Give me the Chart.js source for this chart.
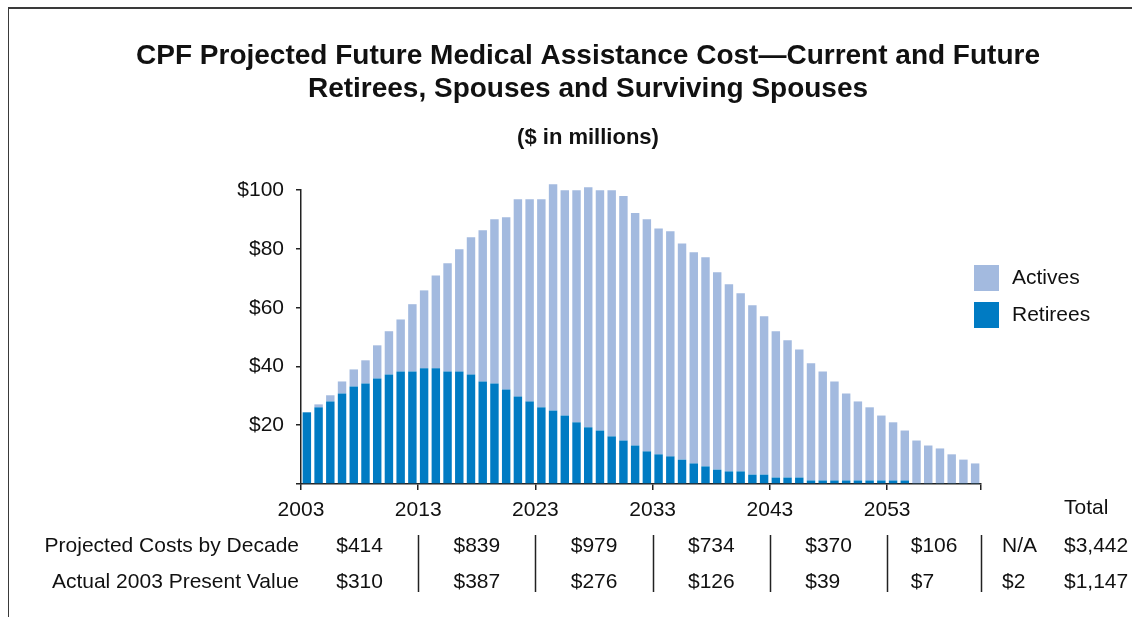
<!DOCTYPE html>
<html>
<head>
<meta charset="utf-8">
<title>CPF Projected Future Medical Assistance Cost</title>
<script src="https://cdn.jsdelivr.net/npm/chart.js@4.4.0/dist/chart.umd.min.js"></script>
<style>
    html, body { margin: 0; padding: 0; background: #fff; }
    #wrap { position: relative; width: 1132px; height: 617px; overflow: hidden; }
    #frame {
        position: absolute; left: 8px; top: 7px; right: -2px; bottom: -2px;
        border-top: 2px solid #3a3a3a; border-left: 1.5px solid #3a3a3a;
    }
    #chart { position: absolute; left: 0; top: 0; }
</style>
</head>
<body>
<div id="wrap">
    <div id="frame"></div>
    <canvas id="chart" width="1132" height="617"></canvas>
</div>
<script>
// ===========================
// DATA
// ===========================

const years = Array.from({ length: 58 }, (_, i) => String(2003 + i));

// $ in millions, per year
const retirees = [
    24.4, 26.1, 28.1, 30.8, 33.2, 34.2, 35.9, 37.3, 38.3, 38.3,
    39.4, 39.4, 38.3, 38.3, 37.3, 34.9, 34.2, 32.2, 29.8, 28.1,
    26.1, 25.0, 23.3, 21.0, 19.3, 18.2, 16.2, 14.8, 13.1, 11.1,
    10.1, 9.4, 8.3, 7.0, 6.0, 4.9, 4.3, 4.3, 3.2, 3.2,
    2.2, 2.2, 2.2, 1.2, 1.2, 1.2, 1.2, 1.2, 1.2, 1.2,
    1.2, 1.2, 0.3, 0.3, 0.3, 0.3, 0.3, 0.3
];

const actives = [
    0.0, 1.0, 2.1, 4.1, 5.8, 7.9, 11.3, 14.7, 17.7, 22.9,
    26.5, 31.6, 36.8, 41.6, 46.7, 51.5, 55.9, 58.6, 67.1, 68.8,
    70.8, 77.0, 76.7, 79.0, 81.7, 81.8, 83.8, 83.2, 79.1, 79.0,
    76.9, 76.6, 73.6, 71.9, 71.2, 67.2, 63.7, 60.6, 57.6, 53.9,
    49.8, 46.7, 43.6, 39.9, 37.1, 33.7, 29.6, 26.9, 24.9, 22.1,
    19.8, 17.0, 14.5, 12.8, 11.8, 9.8, 8.0, 6.7
];

// table under the axis
const rowLabels = ["Projected Costs by Decade", "Actual 2003 Present Value"];
const decadeStarts = [0, 10, 20, 30, 40, 50, 58];
const projectedByDecade = [414, 839, 979, 734, 370, 106];
const presentValueByDecade = [310, 387, 276, 126, 39, 7];
const projectedAfter = "N/A";
const presentValueAfter = 2;
const projectedTotal = 3442;
const presentValueTotal = 1147;

// ===========================
// STYLE
// ===========================

const FONT = "'Liberation Sans', Arial, Helvetica, sans-serif";
const INK = "#111";
const LIGHT_BLUE = "#a3badf";
const DARK_BLUE = "#007bc3";

function money(v) {
    return typeof v === "number" ? "$" + v.toLocaleString("en-US") : v;
}

// ===========================
// TABLE + LEGEND
// ===========================

const extrasPlugin = {
    id: "decadeTable",
    afterDraw(chart) {
        const { ctx, scales: { x } } = chart;
        const edge = i => x.getPixelForValue(i - 0.5);

        ctx.save();
        ctx.fillStyle = INK;
        ctx.font = "21px " + FONT;
        ctx.textBaseline = "middle";

        const rowY = [546, 582];
        const naX = 1002;
        const totalX = 1064;

        // header
        ctx.textAlign = "left";
        ctx.fillText("Total", totalX, 508);

        // row labels
        ctx.textAlign = "right";
        rowLabels.forEach((label, r) => ctx.fillText(label, 299, rowY[r]));

        // decade columns
        const slot = ctx.measureText("$000").width;
        ctx.textAlign = "left";
        for (let d = 0; d < projectedByDecade.length; d++) {
            const mid = (edge(decadeStarts[d]) + edge(decadeStarts[d + 1])) / 2;
            ctx.fillText(money(projectedByDecade[d]), mid - slot / 2, rowY[0]);
            ctx.fillText(money(presentValueByDecade[d]), mid - slot / 2, rowY[1]);
        }

        ctx.fillText(money(projectedAfter), naX, rowY[0]);
        ctx.fillText(money(presentValueAfter), naX, rowY[1]);
        ctx.fillText(money(projectedTotal), totalX, rowY[0]);
        ctx.fillText(money(presentValueTotal), totalX, rowY[1]);

        // separators on the decade boundaries
        ctx.strokeStyle = "#222";
        ctx.lineWidth = 1.5;
        ctx.beginPath();
        for (let d = 1; d < decadeStarts.length; d++) {
            const px = Math.round(edge(decadeStarts[d])) + 0.5;
            ctx.moveTo(px, 535);
            ctx.lineTo(px, 592);
        }
        ctx.stroke();

        // legend, actives first
        const items = chart.data.datasets.slice().reverse();
        items.forEach((ds, i) => {
            const top = 265 + i * 37;
            ctx.fillStyle = ds.backgroundColor;
            ctx.fillRect(974, top, 25, 26);
            ctx.fillStyle = INK;
            ctx.textAlign = "left";
            ctx.fillText(ds.label, 1012, top + 13);
        });

        ctx.restore();
    }
};

// ===========================
// CHART
// ===========================

const decadeTick = c => (c.tick === undefined || c.index % 10 === 0) ? "#222" : "rgba(0,0,0,0)";

new Chart(document.getElementById("chart"), {
    type: "bar",
    data: {
        labels: years,
        datasets: [
            {
                label: "Retirees",
                data: retirees,
                backgroundColor: DARK_BLUE,
                clip: false
            },
            {
                label: "Actives",
                data: actives,
                backgroundColor: LIGHT_BLUE,
                clip: false
            }
        ]
    },
    options: {
        responsive: false,
        animation: false,
        categoryPercentage: 1,
        barPercentage: 0.72,
        layout: {
            padding: { left: 44, right: 0, top: 0, bottom: 93 }
        },
        plugins: {
            legend: { display: false },
            tooltip: { enabled: false },
            title: {
                display: true,
                text: [
                    "CPF Projected Future Medical Assistance Cost\u2014Current and Future",
                    "Retirees, Spouses and Surviving Spouses"
                ],
                color: INK,
                font: { family: FONT, size: 28, weight: "bold", lineHeight: 1.2 },
                padding: { top: 39, bottom: 0 }
            },
            subtitle: {
                display: true,
                text: "($ in millions)",
                color: INK,
                font: { family: FONT, size: 22, weight: "bold", lineHeight: 1.2 },
                padding: { top: 18.6, bottom: 39 }
            }
        },
        scales: {
            x: {
                stacked: true,
                offset: true,
                afterFit: s => { s.height = 40; },
                border: { color: "#222", width: 1.5 },
                grid: {
                    offset: true,
                    drawOnChartArea: false,
                    tickLength: 6,
                    lineWidth: 1.5,
                    color: decadeTick
                },
                ticks: {
                    autoSkip: false,
                    maxRotation: 0,
                    minRotation: 0,
                    labelOffset: -5.9,
                    padding: 8,
                    color: INK,
                    font: { family: FONT, size: 21 },
                    callback: (v, i) => i % 10 === 0 ? years[i] : ""
                }
            },
            y: {
                stacked: true,
                min: 0,
                max: 100,
                afterFit: s => { s.width = 257; },
                border: { color: "#222", width: 1.5 },
                grid: {
                    drawOnChartArea: false,
                    tickLength: 5,
                    lineWidth: 1.5,
                    color: "#222"
                },
                ticks: {
                    stepSize: 20,
                    padding: 12,
                    color: INK,
                    font: { family: FONT, size: 21 },
                    callback: v => v === 0 ? "" : "$" + v
                }
            },
            // empty right-hand column that holds the legend
            legendSpace: {
                axis: "y",
                position: "right",
                afterFit: s => { s.width = 151; },
                border: { display: false },
                grid: { display: false },
                ticks: { display: false }
            }
        }
    },
    plugins: [extrasPlugin]
});
</script>
</body>
</html>
